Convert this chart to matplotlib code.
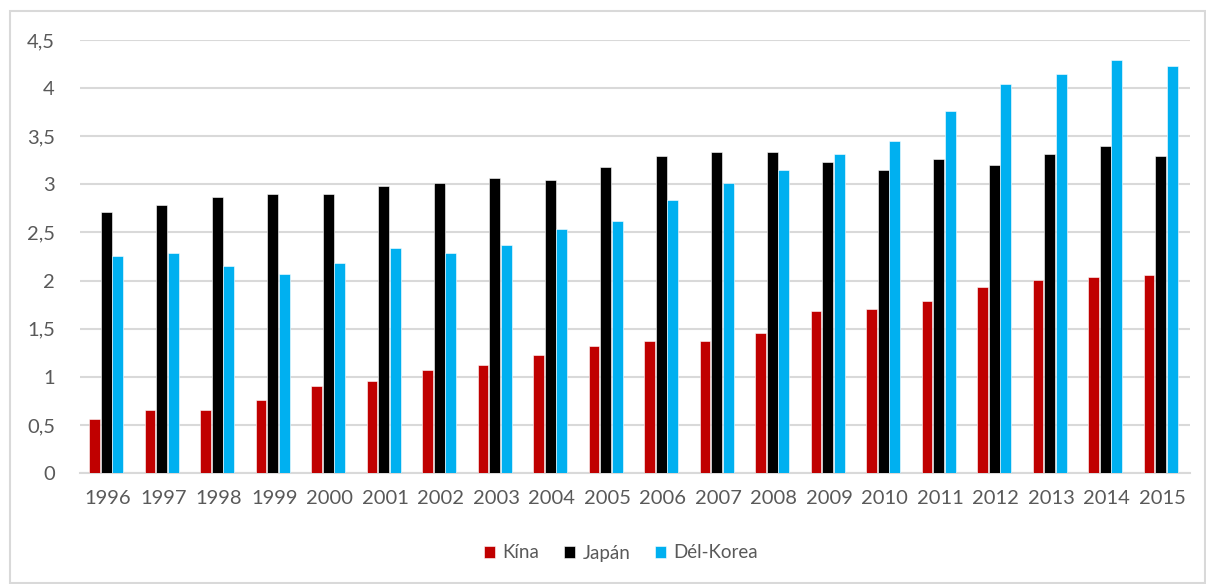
import matplotlib
matplotlib.use("Agg")
import matplotlib.pyplot as plt
import numpy as np
from matplotlib.patches import Rectangle
from matplotlib.ticker import FuncFormatter, MultipleLocator

years = ["1996", "1997", "1998", "1999", "2000", "2001", "2002", "2003", "2004", "2005",
         "2006", "2007", "2008", "2009", "2010", "2011", "2012", "2013", "2014", "2015"]
kina = [0.56, 0.65, 0.65, 0.76, 0.90, 0.96, 1.07, 1.12, 1.23, 1.32,
        1.37, 1.37, 1.46, 1.68, 1.70, 1.79, 1.93, 2.01, 2.04, 2.06]
japan = [2.71, 2.79, 2.87, 2.90, 2.90, 2.98, 3.01, 3.07, 3.04, 3.18,
         3.29, 3.34, 3.34, 3.23, 3.15, 3.26, 3.20, 3.32, 3.40, 3.29]
korea = [2.26, 2.29, 2.15, 2.07, 2.18, 2.34, 2.29, 2.37, 2.54, 2.62,
         2.84, 3.01, 3.15, 3.32, 3.45, 3.76, 4.04, 4.15, 4.29, 4.23]
series_names = ["Kína", "Japán", "Dél-Korea"]
colors = ["#C00000", "#000000", "#00B0F0"]

plt.rcParams['font.family'] = ['Lato', 'DejaVu Sans']

fig = plt.figure(figsize=(12.06, 5.84), dpi=100)
fig.patches.append(Rectangle((10/1206, 1/584), 1195/1206, 572/584, transform=fig.transFigure,
                             fill=False, edgecolor="#D9D9D9", linewidth=1.5))
ax = fig.add_axes([80/1206, 1 - 473/584, 1110/1206, 433/584])

x = np.arange(len(years))
w = 0.21
for i, (vals, c, name) in enumerate(zip([kina, japan, korea], colors, series_names)):
    ax.bar(x + (i - 1) * w - 0.03, vals, width=w * 0.93, color=c, edgecolor="white",
           linewidth=0.4, label=name, zorder=3)

ax.set_xlim(-0.5, len(years) - 0.5)
ax.set_ylim(0, 4.5)
ax.yaxis.set_major_locator(MultipleLocator(0.5))
ax.yaxis.set_major_formatter(FuncFormatter(lambda v, p: ("%g" % v).replace(".", ",")))
ax.set_xticks(x)
ax.set_xticklabels(years)
ax.grid(axis="y", color="#D9D9D9", linewidth=1.5, zorder=0)
for s in ["top", "right", "left"]:
    ax.spines[s].set_visible(False)
ax.spines["bottom"].set_color("#D9D9D9")
ax.spines["bottom"].set_linewidth(1.5)
ax.tick_params(axis="both", length=0, labelsize=14.5, colors="#595959")
ax.tick_params(axis="x", pad=12)
ax.tick_params(axis="y", pad=18)

handles, labels = ax.get_legend_handles_labels()
fig.legend(handles, labels, loc="center", bbox_to_anchor=(621/1206, 1 - 553/584), ncol=3,
           frameon=False, fontsize=13.5, labelcolor="#595959", handlelength=0.6,
           handleheight=0.6, handletextpad=0.4, columnspacing=1.3)

fig.savefig("out.png", dpi=100)
